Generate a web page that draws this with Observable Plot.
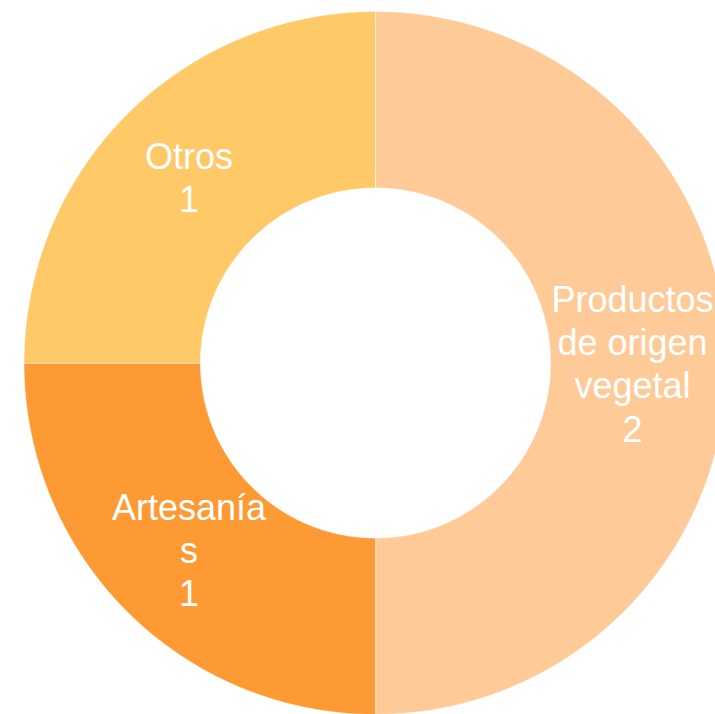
<!DOCTYPE html>
<html>
<head>
<meta charset="utf-8">
<script src="https://cdn.jsdelivr.net/npm/d3@7"></script>
<script src="https://cdn.jsdelivr.net/npm/@observablehq/plot@0.6"></script>
<style>
  html, body { margin: 0; padding: 0; background: #ffffff; }
  #chart { width: 715px; height: 714px; }
</style>
</head>
<body>
<div id="chart"></div>
<script>
// ---- data ----
const categories = ["Productos de origen vegetal", "Artesanías", "Otros"];
const values = [2, 1, 1];
const labelLines = ["Productos\nde origen\nvegetal", "Artesanía\ns", "Otros"];
const colors = ["#FECB98", "#FE9A34", "#FEC966"];

// ---- layout ----
const W = 715, H = 714;
const cxPx = 375, cyPx = 362.5, Rpx = 351.5;
const innerRatio = 0.498;
const labelRatio = 0.75;
const fontSize = 36;
const fontFamily = "'Liberation Sans', Arial, sans-serif";

const xDomain = [-cxPx / Rpx, (W - cxPx) / Rpx];
const yDomain = [-(H - cyPx) / Rpx, cyPx / Rpx];

// pie angles: start at 12 o'clock, clockwise
const total = d3.sum(values);
let acc = 0;
const slices = categories.map((c, i) => {
  const a0 = acc / total * 2 * Math.PI;
  acc += values[i];
  const a1 = acc / total * 2 * Math.PI;
  return { category: c, value: values[i], label: labelLines[i], color: colors[i], a0, a1 };
});

// polygon outline of each ring slice
const pts = [];
const steps = 120;
for (const s of slices) {
  for (let k = 0; k <= steps; k++) {
    const a = s.a0 + (s.a1 - s.a0) * k / steps;
    pts.push({ category: s.category, x: Math.sin(a), y: Math.cos(a) });
  }
  for (let k = steps; k >= 0; k--) {
    const a = s.a0 + (s.a1 - s.a0) * k / steps;
    pts.push({ category: s.category, x: innerRatio * Math.sin(a), y: innerRatio * Math.cos(a) });
  }
}

// label positions (centroids, kept inside the picture)
const ctx = document.createElement("canvas").getContext("2d");
ctx.font = `${fontSize}px ${fontFamily}`;
const labels = slices.map(s => {
  const am = (s.a0 + s.a1) / 2;
  let x = labelRatio * Math.sin(am);
  const y = labelRatio * Math.cos(am);
  const text = s.label + "\n" + s.value;
  const halfW = d3.max(text.split("\n"), l => ctx.measureText(l).width) / 2 / Rpx;
  x = Math.min(x, xDomain[1] - halfW - 2 / Rpx);
  x = Math.max(x, xDomain[0] + halfW + 2 / Rpx);
  return { x, y, text };
});

const chart = Plot.plot({
  width: W,
  height: H,
  margin: 0,
  x: { domain: xDomain, axis: null },
  y: { domain: yDomain, axis: null },
  color: { domain: categories, range: colors },
  style: { background: "#ffffff", fontFamily },
  marks: [
    Plot.line(pts, {
      x: "x", y: "y", z: "category",
      fill: "category",
      stroke: "#ffffff", strokeWidth: 1, strokeOpacity: 0.5,
      curve: "linear-closed"
    }),
    Plot.text(labels, {
      x: "x", y: "y", text: "text",
      fill: "#ffffff",
      fontSize, lineHeight: 1.2,
      fontFamily
    })
  ]
});

document.getElementById("chart").appendChild(chart);
</script>
</body>
</html>
